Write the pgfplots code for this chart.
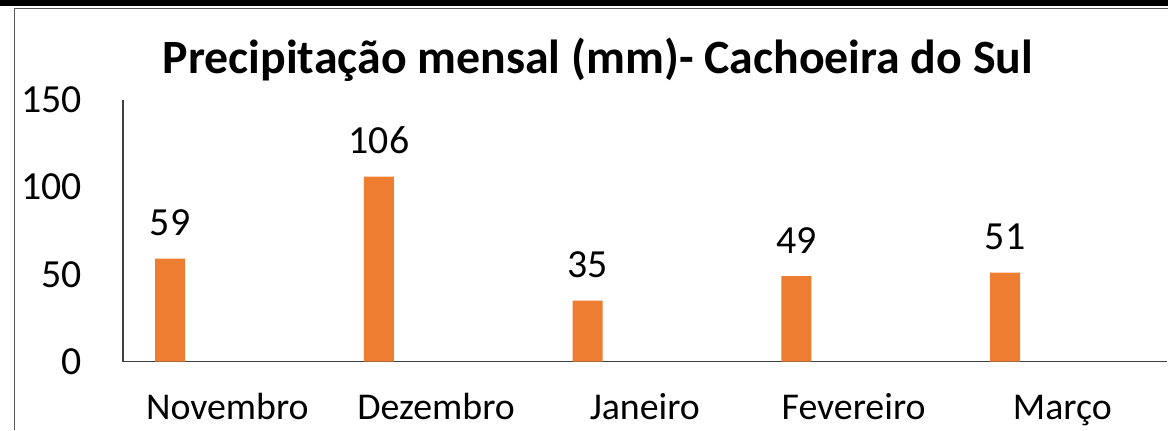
\documentclass[border=0pt]{standalone}
\usepackage{fontspec}
\setmainfont{Carlito}
\usepackage{pgfplots}
\pgfplotsset{compat=1.18}
\definecolor{barorange}{RGB}{237,125,49}
\begin{document}
\begin{tikzpicture}[x=1bp,y=1bp]
\useasboundingbox (0,0) rectangle (1168,430);
\begin{scope}
\clip (0,0) rectangle (1168,430);
\fill[black] (0,423.5) rectangle (1168,430);
\draw[black!65, line width=1.5bp] (14.5,0) -- (14.5,421.5) -- (1168,421.5);
\node[anchor=base, inner sep=0pt, font=\fontsize{48}{54}\selectfont\bfseries] at (598,357) {Precipitação mensal (mm)- Cachoeira do Sul};
\begin{axis}[
  at={(123bp,68.3bp)}, anchor=south west,
  scale only axis, width=1043.7bp, height=262bp,
  xmin=-0.5, xmax=4.5, ymin=0, ymax=150,
  axis lines*=left,
  axis line style={black!75, line width=1.3bp},
  xtick={0,1,2,3,4},
  xticklabels={Novembro,Dezembro,Janeiro,Fevereiro,Março},
  ytick={0,50,100,150},
  major tick length=0pt,
  tick label style={font=\fontsize{40}{46}\selectfont},
  /pgf/number format/assume math mode=true,
  xticklabel style={anchor=base, yshift=-58bp, inner sep=0pt, font=\fontsize{38}{44}\selectfont},
  yticklabel style={anchor=east, xshift=-41bp, inner sep=0pt},
  ybar, bar width=30bp, bar shift=-57.2bp,
  nodes near coords,
  nodes near coords style={font=\fontsize{40}{46}\selectfont, anchor=base, yshift=23bp, inner sep=0pt, /pgf/number format/assume math mode=true},
  clip=false,
]
\addplot[fill=barorange, draw=none] coordinates {(0,59) (1,106) (2,35) (3,49) (4,51)};
\end{axis}
\end{scope}
\end{tikzpicture}
\end{document}
